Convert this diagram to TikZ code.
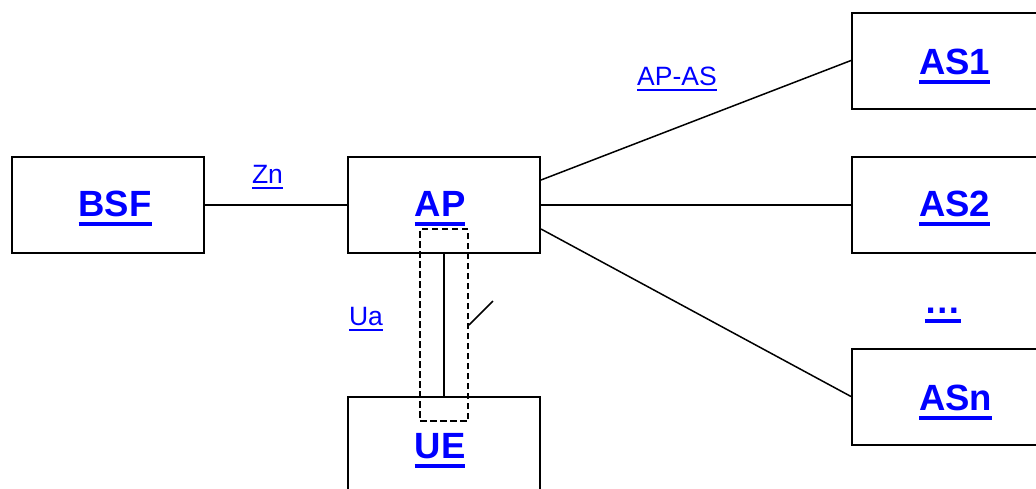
\documentclass[tikz,border=0pt]{standalone}
\usepackage{fontspec}
\setmainfont{Liberation Sans}
\usetikzlibrary{calc}
\definecolor{lnk}{RGB}{0,0,255}
\newsavebox\ulbox
\newcommand\ulbold[1]{\sbox\ulbox{\bfseries#1}\rlap{\usebox\ulbox}\rule[-10pt]{\wd\ulbox}{4pt}}
\newcommand\ulreg[1]{\sbox\ulbox{#1}\rlap{\usebox\ulbox}\rule[-6pt]{\wd\ulbox}{2.5pt}}
\begin{document}
\begin{tikzpicture}[x=1pt,y=-1pt,
  ent/.style={draw=black,line width=2pt,minimum width=192pt,minimum height=96pt,
    inner sep=0pt,text=lnk,font=\fontsize{36.5}{40}\selectfont,text depth=0pt},
  lbl/.style={inner sep=0pt,text=lnk,font=\fontsize{26.5}{30}\selectfont,anchor=base},
  conn/.style={line width=1.5pt,black}]
\useasboundingbox (0,0) rectangle (1036,488);
% boxes
\node[ent,text height=22pt] (BSF) at (108,205) {\hspace*{14pt}\ulbold{BSF}};
\node[ent,text height=22pt] (AP)  at (444,205) {\ulbold{AP}\hspace*{8pt}};
\node[ent,text height=26pt] (UE)  at (444,445) {\ulbold{UE}\hspace*{8pt}};
\node[ent,text height=27pt] (AS1) at (948,60.5) {\hspace*{13pt}\ulbold{AS1}};
\node[ent,text height=22pt] (AS2) at (948,205) {\hspace*{13pt}\ulbold{AS2}};
\node[ent,text height=27pt] (ASn) at (948,396.5) {\hspace*{15pt}\ulbold{ASn}};
\node[inner sep=0pt,text=lnk,font=\fontsize{36.5}{40}\selectfont,anchor=base] (dots) at (943,313) {\ulbold{…}};
% labels
\node[lbl] (Zn) at (267.5,183) {\ulreg{Zn}};
\node[lbl] (APAS) at (677,85) {\ulreg{AP-AS}};
\node[lbl] (Ua) at (366,325) {\ulreg{Ua}};
% connectors
\draw[conn] (BSF) -- (AP);
\draw[conn] (AP) -- (AS2);
\draw[conn] ($(AP.east)+(0,-25)$) -- (AS1.west);
\draw[conn] ($(AP.east)+(0,24)$) -- (ASn.west);
\draw[line width=2.3pt] (AP.south) -- (UE.north);
% dashed security box
\node[draw=black,dash pattern=on 6.5pt off 3.5pt,line width=2pt,
  minimum width=48pt,minimum height=192pt,inner sep=0pt] (sec) at (444,325) {};
\coordinate (tick) at (493,301);
\draw[conn] (sec.east) -- (tick);
\end{tikzpicture}
\end{document}
